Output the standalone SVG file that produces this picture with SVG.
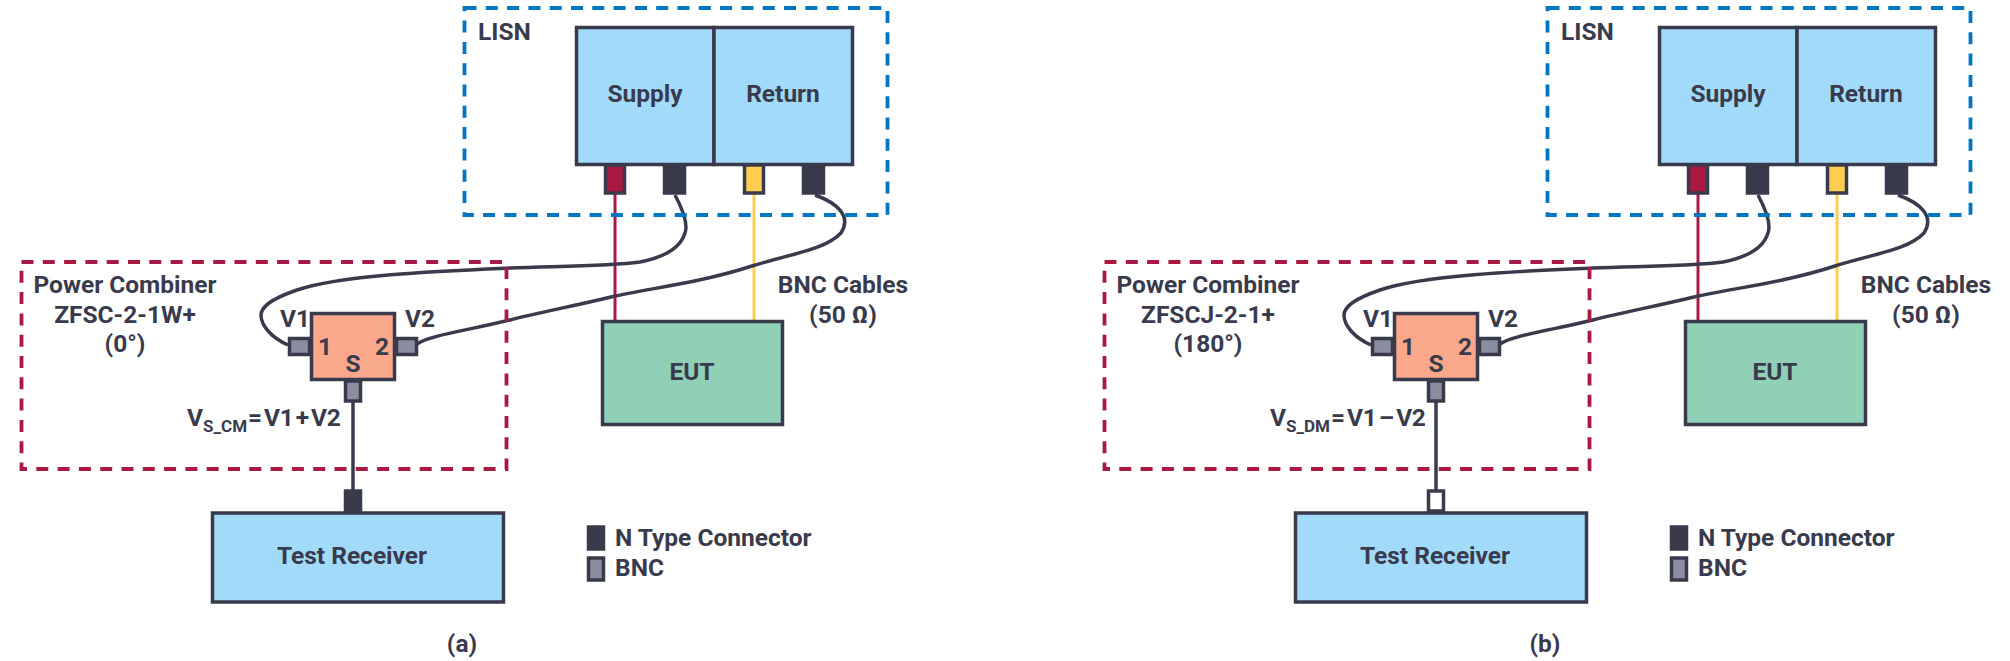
<svg xmlns="http://www.w3.org/2000/svg" width="2010" height="661" viewBox="0 0 2010 661">
<style>
text{font-family:"Roboto","Liberation Sans",sans-serif;font-weight:700;font-size:24.500px;fill:#393b4d}
.m{text-anchor:middle}
.sub{font-size:17px}
.eq{word-spacing:-3.300px;letter-spacing:-.4px}
.box{stroke:#393b4d;stroke-width:3.500}
.blue{fill:#a2dafa}.org{fill:#faa88c}.grn{fill:#90d0b6}.gry{fill:#8a8d9f}.drk{fill:#393b4d}.red{fill:#a91a42}.yel{fill:#ffcd50}.wht{fill:#fff}
.lisn{fill:none;stroke:#0075c2;stroke-width:3.800;stroke-dasharray:12 9.300}
.pc{fill:none;stroke:#a91a42;stroke-width:3.800;stroke-dasharray:12 9.300}
.w{fill:none;stroke-width:3.500;stroke:#393b4d}
</style>
<rect width="2010" height="661" fill="#fff"/>
<g id="panel-a">
<g id="connectors-a">
<path class="w" style="stroke:#a91a42;stroke-width:3" d="M615 194V321"/>
<path class="w" style="stroke:#ffcd50;stroke-width:3" d="M754 194V321"/>
<path class="w" d="M675 195C683 210 688 225 685 233C680 250 660 258 640 262C610 266 570 266 510 268C440 271 340 275 297 290C268 300 261 308 261 315C261 326 272 338 288 345"/>
<path class="w" d="M815 195C837 203 852 216 841 233C825 250 790 254 752 266C700 283 650 288 611 297C570 307 540 312 510 320C470 330 430 335 417 344"/>
<path class="w" d="M353 402V490"/>
</g>
<g id="lisn-a"><rect class="lisn" x="464.500" y="8" width="423" height="207"/><text x="478" y="40">LISN</text></g>
<g id="lisn-supply-a"><rect class="box blue" x="576.500" y="27.500" width="137.500" height="137"/><text class="m" x="645" y="102">Supply</text></g>
<g id="lisn-return-a"><rect class="box blue" x="714" y="27.500" width="138.500" height="137"/><text class="m" x="783" y="102">Return</text></g>
<g id="conn-a1"><rect class="box red" x="605.500" y="165" width="19" height="28"/></g>
<g id="conn-a2"><rect class="box drk" x="664.500" y="165" width="20" height="28"/></g>
<g id="conn-a3"><rect class="box yel" x="744.500" y="165" width="19" height="28"/></g>
<g id="conn-a4"><rect class="box drk" x="803.500" y="165" width="20" height="28"/></g>
<g id="power-combiner-a"><rect class="pc" x="21.500" y="262" width="485" height="207"/>
<text class="m" x="125" y="293">Power Combiner</text><text class="m" x="125" y="323">ZFSC-2-1W+</text><text class="m" x="125" y="352">(0°)</text></g>
<g id="combiner-a"><rect class="box gry" x="289.500" y="338.500" width="20" height="16"/><rect class="box gry" x="396.500" y="338.500" width="20" height="16"/><rect class="box gry" x="345.500" y="381" width="15" height="20"/>
<rect class="box org" x="311.500" y="313.500" width="83" height="66"/>
<text class="m" x="325" y="355">1</text><text class="m" x="382" y="355">2</text><text class="m" x="353" y="372">S</text></g>
<text x="280" y="327">V1</text><text x="405" y="327">V2</text>
<text x="187" y="426">V<tspan class="sub" dy="6">S_CM</tspan></text><text class="eq" x="248" y="426">= V1 + V2</text>
<g id="eut-a"><rect class="box grn" x="602.500" y="321.500" width="180" height="103"/><text class="m" x="692" y="380">EUT</text></g>
<text class="m" x="843" y="293">BNC Cables</text><text class="m" x="843" y="323">(50 Ω)</text>
<g id="receiver-a"><rect class="box drk" x="345.500" y="491" width="15" height="20"/><rect class="box blue" x="212.500" y="513" width="291" height="89"/><text class="m" x="352" y="564">Test Receiver</text></g>
<g id="legend-a"><rect class="box drk" x="588.500" y="527" width="15" height="22"/><rect class="box gry" x="588.500" y="558" width="15" height="22"/><text x="615" y="546">N Type Connector</text><text x="615" y="576">BNC</text></g>
<text class="m" x="462" y="652">(a)</text>
</g>
<g id="panel-b" transform="translate(1083 0)">
<g id="connectors-b">
<path class="w" style="stroke:#a91a42;stroke-width:3" d="M615 194V321"/>
<path class="w" style="stroke:#ffcd50;stroke-width:3" d="M754 194V321"/>
<path class="w" d="M675 195C683 210 688 225 685 233C680 250 660 258 640 262C610 266 570 266 510 268C440 271 340 275 297 290C268 300 261 308 261 315C261 326 272 338 288 345"/>
<path class="w" d="M815 195C837 203 852 216 841 233C825 250 790 254 752 266C700 283 650 288 611 297C570 307 540 312 510 320C470 330 430 335 417 344"/>
<path class="w" d="M353 402V490"/>
</g>
<g id="lisn-b"><rect class="lisn" x="464.500" y="8" width="423" height="207"/><text x="478" y="40">LISN</text></g>
<g id="lisn-supply-b"><rect class="box blue" x="576.500" y="27.500" width="137.500" height="137"/><text class="m" x="645" y="102">Supply</text></g>
<g id="lisn-return-b"><rect class="box blue" x="714" y="27.500" width="138.500" height="137"/><text class="m" x="783" y="102">Return</text></g>
<g id="conn-b1"><rect class="box red" x="605.500" y="165" width="19" height="28"/></g>
<g id="conn-b2"><rect class="box drk" x="664.500" y="165" width="20" height="28"/></g>
<g id="conn-b3"><rect class="box yel" x="744.500" y="165" width="19" height="28"/></g>
<g id="conn-b4"><rect class="box drk" x="803.500" y="165" width="20" height="28"/></g>
<g id="power-combiner-b"><rect class="pc" x="21.500" y="262" width="485" height="207"/>
<text class="m" x="125" y="293">Power Combiner</text><text class="m" x="125" y="323">ZFSCJ-2-1+</text><text class="m" x="125" y="352">(180°)</text></g>
<g id="combiner-b"><rect class="box gry" x="289.500" y="338.500" width="20" height="16"/><rect class="box gry" x="396.500" y="338.500" width="20" height="16"/><rect class="box gry" x="345.500" y="381" width="15" height="20"/>
<rect class="box org" x="311.500" y="313.500" width="83" height="66"/>
<text class="m" x="325" y="355">1</text><text class="m" x="382" y="355">2</text><text class="m" x="353" y="372">S</text></g>
<text x="280" y="327">V1</text><text x="405" y="327">V2</text>
<text x="187" y="426">V<tspan class="sub" dy="6">S_DM</tspan></text><text class="eq" x="248" y="426">= V1 – V2</text>
<g id="eut-b"><rect class="box grn" x="602.500" y="321.500" width="180" height="103"/><text class="m" x="692" y="380">EUT</text></g>
<text class="m" x="843" y="293">BNC Cables</text><text class="m" x="843" y="323">(50 Ω)</text>
<g id="receiver-b"><rect class="box wht" x="345.500" y="491" width="15" height="20"/><rect class="box blue" x="212.500" y="513" width="291" height="89"/><text class="m" x="352" y="564">Test Receiver</text></g>
<g id="legend-b"><rect class="box drk" x="588.500" y="527" width="15" height="22"/><rect class="box gry" x="588.500" y="558" width="15" height="22"/><text x="615" y="546">N Type Connector</text><text x="615" y="576">BNC</text></g>
<text class="m" x="462" y="652">(b)</text>
</g>
</svg>
